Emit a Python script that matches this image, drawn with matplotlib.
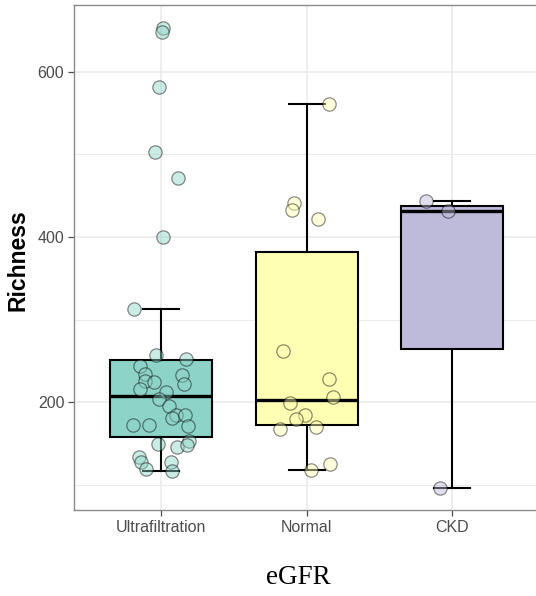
import numpy as np
import matplotlib
matplotlib.use("Agg")
import matplotlib.pyplot as plt
from matplotlib.colors import to_rgba

plt.rcParams["font.family"] = ["Liberation Sans", "DejaVu Sans"]

groups = ["Ultrafiltration", "Normal", "CKD"]
colors = ["#8DD3C7", "#FFFFB3", "#BEBADA"]

# richness per sample, with the horizontal jitter of each dot
uf_rich = [313, 257.7, 252.8, 244, 234, 233, 226, 224.6, 222.5, 216.5, 212.5,
           203.6, 195.5, 184.6, 181.4, 184.6, 172.5, 172.5, 171.3, 149.5, 145.5,
           152.7, 148, 134, 128, 118.8, 128, 117,
           653.3, 648.5, 581.8, 502.7, 471.2, 399.6]
uf_jit = [-0.189, -0.039, 0.172, -0.149, -0.111, 0.140, -0.110, -0.053, 0.156,
          -0.149, 0.034, -0.019, 0.054, 0.098, 0.076, 0.160, -0.195, -0.081,
          0.186, -0.023, 0.110, 0.190, 0.178, -0.154, -0.142, -0.108, 0.069,
          0.076, 0.009, 0.002, -0.019, -0.044, 0.112, 0.011]

normal_rich = [262.2, 228.2, 206, 198.8, 184.6, 179.4, 170.4, 167.6, 125.2, 118,
               561.6, 441.2, 433, 421.8]
normal_jit = [-0.163, 0.153, 0.181, -0.117, -0.009, -0.071, 0.062, -0.186,
              0.158, 0.028, 0.151, -0.087, -0.098, 0.074]

ckd_rich = [444, 432, 96]
ckd_jit = [-0.181, -0.032, -0.085]

data = [uf_rich, normal_rich, ckd_rich]
jitter = [uf_jit, normal_jit, ckd_jit]
pos = np.arange(1, len(groups) + 1)

fig = plt.figure(figsize=(5.36, 5.96), dpi=100)
ax = fig.add_axes([74 / 536, 1 - 510 / 596, 465.5 / 536, 505 / 596])

bp = ax.boxplot(data, positions=pos, widths=0.7, whis=1.5, showfliers=False,
                patch_artist=True, capwidths=0.25,
                boxprops=dict(edgecolor="black", linewidth=1.5),
                whiskerprops=dict(color="black", linewidth=1.5),
                capprops=dict(color="black", linewidth=1.5),
                medianprops=dict(color="black", linewidth=2.4),
                zorder=2)
for patch, c in zip(bp["boxes"], colors):
    patch.set_facecolor(c)

for p, vals, jit, c in zip(pos, data, jitter, colors):
    ax.scatter(p + np.array(jit), vals, s=92, facecolor=to_rgba(c, 0.45),
               edgecolor=(0, 0, 0, 0.45), linewidth=0.9, zorder=3)

ax.set_xlim(0.4, 3.6)
ax.set_ylim(69.5, 681)
ax.set_xticks(pos)
ax.set_xticklabels(groups)
ax.set_yticks([200, 400, 600])
ax.set_yticks([100, 300, 500], minor=True)
ax.tick_params(axis="both", which="major", labelsize=11.5, labelcolor="#4d4d4d",
               color="#4d4d4d", length=4, width=0.9, pad=3)
ax.tick_params(axis="y", which="minor", length=0)

ax.grid(True, which="major", color="#ebebeb", linewidth=1.2, zorder=0)
ax.grid(True, which="minor", axis="y", color="#ebebeb", linewidth=0.8, zorder=0)
ax.set_axisbelow(True)
for sp in ax.spines.values():
    sp.set_color("#8a8a8a")
    sp.set_linewidth(1.0)

fig.text(18 / 536, 1 - 260 / 596, "Richness", rotation=90, ha="center",
         va="center", fontsize=16.5, fontweight="bold")
fig.text(298 / 536, 1 - 577 / 596, "eGFR", ha="center", va="center",
         fontsize=19.5, family=["Liberation Serif", "DejaVu Serif"])

fig.savefig("out.png", dpi=100)
